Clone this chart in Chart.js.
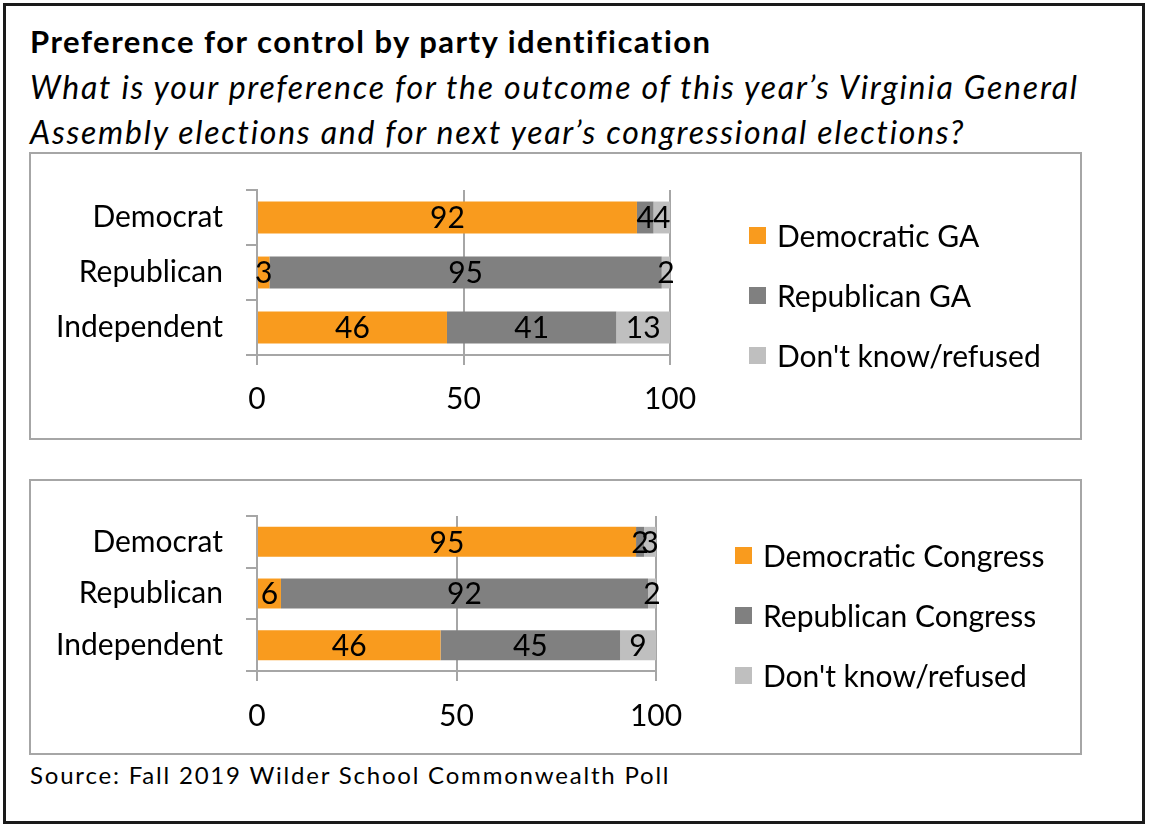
<!DOCTYPE html>
<html>
<head>
<meta charset="utf-8">
<script src="https://cdn.jsdelivr.net/npm/chart.js@4.4.1/dist/chart.umd.min.js"></script>
<style>
  body { margin: 0; background: #fff; font-family: Lato, sans-serif; color: #000; }
  #frame { position: absolute; left: 3px; top: 3px; width: 1136px; height: 815px; border: 3px solid #1a1a1a; }
  .txt { position: absolute; left: 30px; white-space: nowrap; line-height: 1; }
  #title { top: 26px; font-size: 31px; font-weight: bold; letter-spacing: 1.5px; }
  #sub1 { top: 71px; font-size: 32px; font-style: italic; letter-spacing: 1.75px; }
  #sub2 { top: 116px; font-size: 32px; font-style: italic; letter-spacing: 1.75px; }
  #source { top: 763px; font-size: 24px; letter-spacing: 1.8px; }
  .panel { position: absolute; left: 29px; width: 1049px; border: 2px solid #a6a6a6; }
  .panel canvas { display: block; }
  .legend { position: absolute; margin: 0; padding: 0; list-style: none; font-size: 30px; }
  .legend li { display: flex; align-items: center; height: 60px; white-space: nowrap; }
  .legend span { display: inline-block; width: 17px; height: 17px; margin-right: 11px; }
</style>
</head>
<body>
<div id="frame"></div>
<div class="txt" id="title">Preference for control by party identification</div>
<div class="txt" id="sub1">What is your preference for the outcome of this year’s Virginia General</div>
<div class="txt" id="sub2">Assembly elections and for next year’s congressional elections?</div>
<div class="panel" style="top:152px;height:284px"><canvas id="gaChart" width="1049" height="284"></canvas></div>
<div class="panel" style="top:479px;height:272px"><canvas id="congChart" width="1049" height="272"></canvas></div>
<ul class="legend" id="gaLegend" style="left:749px;top:205px"></ul>
<ul class="legend" id="congLegend" style="left:735px;top:525px"></ul>
<div class="txt" id="source">Source: Fall 2019 Wilder School Commonwealth Poll</div>
<script>
// Datuak
const categories = ["Democrat", "Republican", "Independent"];
const gaDemocratic = [92, 3, 46];
const gaRepublican = [4, 95, 41];
const gaDontKnow = [4, 2, 13];
const congDemocratic = [95, 6, 46];
const congRepublican = [2, 92, 45];
const congDontKnow = [3, 2, 9];
const xTicks = [0, 50, 100];
const gaNames = ["Democratic GA", "Republican GA", "Don't know/refused"];
const congNames = ["Democratic Congress", "Republican Congress", "Don't know/refused"];

const colors = ["#F99B1E", "#808080", "#BFBFBF"];
const lineColor = "#a6a6a6";
const fontSize = 30;
const font = { family: "Lato", size: fontSize };

// barren barruko zenbakiak
const barLabels = {
  id: "barLabels",
  afterDatasetsDraw(chart) {
    const ctx = chart.ctx;
    ctx.save();
    ctx.font = fontSize + "px Lato";
    ctx.fillStyle = "#000";
    ctx.textAlign = "center";
    ctx.textBaseline = "middle";
    chart.data.datasets.forEach((ds, i) => {
      chart.getDatasetMeta(i).data.forEach((bar, j) => {
        ctx.fillText(ds.data[j], (bar.x + bar.base) / 2, bar.y + 1);
      });
    });
    ctx.restore();
  },
};

// HTML legenda
const htmlLegend = {
  id: "htmlLegend",
  afterUpdate(chart, args, options) {
    const ul = document.getElementById(options.containerID);
    ul.innerHTML = "";
    chart.options.plugins.legend.labels.generateLabels(chart).forEach((item) => {
      const li = document.createElement("li");
      const box = document.createElement("span");
      box.style.background = item.fillStyle;
      li.appendChild(box);
      li.appendChild(document.createTextNode(item.text));
      ul.appendChild(li);
    });
  },
};

function sortuChart(id, series, names, opt) {
  new Chart(document.getElementById(id), {
    type: "bar",
    data: {
      labels: categories,
      datasets: series.map((s, i) => ({
        label: names[i],
        data: s,
        backgroundColor: colors[i],
        categoryPercentage: 1,
        barPercentage: 0.58,
      })),
    },
    options: {
      indexAxis: "y",
      responsive: false,
      animation: false,
      layout: { padding: { top: opt.padTop, bottom: opt.padBottom, left: 0, right: opt.padRight } },
      plugins: {
        legend: { display: false },
        tooltip: { enabled: false },
        htmlLegend: { containerID: opt.legendID },
      },
      scales: {
        x: {
          stacked: true,
          min: 0,
          max: 100,
          afterBuildTicks: (s) => { s.ticks = xTicks.map((v) => ({ value: v })); },
          ticks: { font: font, color: "#000", padding: opt.tickPad },
          grid: { color: lineColor, lineWidth: 2, tickLength: 10 },
          border: { color: lineColor, width: 2 },
          afterFit: (s) => { s.height = 60; },
        },
        y: {
          stacked: true,
          ticks: { font: font, color: "#000", padding: 23 },
          grid: { offset: true, drawOnChartArea: false, tickLength: 11, color: lineColor, lineWidth: 2 },
          border: { color: lineColor, width: 2 },
          afterFit: (s) => { s.width = 226; s.paddingTop = 0; s.paddingBottom = 0; },
        },
      },
    },
    plugins: [barLabels, htmlLegend],
  });
}

sortuChart("gaChart", [gaDemocratic, gaRepublican, gaDontKnow], gaNames,
  { padTop: 36, padBottom: 23, padRight: 410, tickPad: 16, legendID: "gaLegend" });
sortuChart("congChart", [congDemocratic, congRepublican, congDontKnow], congNames,
  { padTop: 35, padBottom: 22, padRight: 424, tickPad: 17, legendID: "congLegend" });
</script>
</body>
</html>
